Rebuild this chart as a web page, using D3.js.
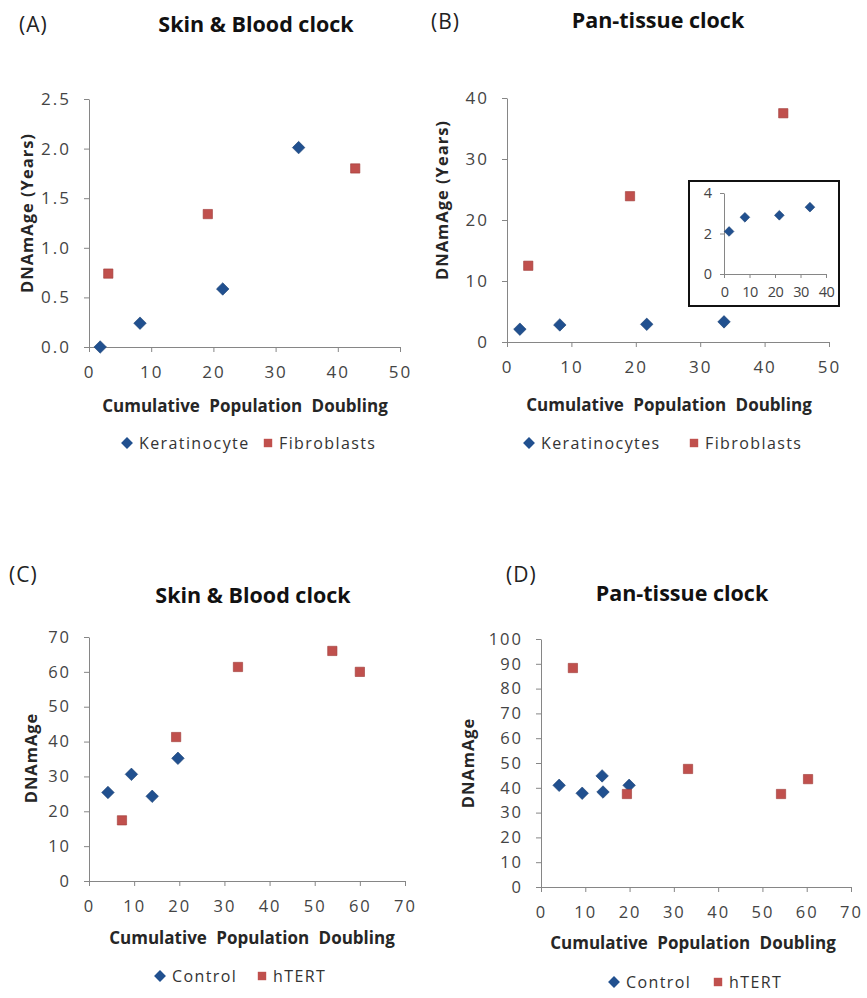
<!DOCTYPE html>
<html>
<head>
<meta charset="utf-8">
<script src="https://cdn.jsdelivr.net/npm/d3@7/dist/d3.min.js"></script>
<style>
  body { margin: 0; background: #fff; }
  svg { display: block; font-family: "Open Sans", sans-serif; }
  .tick text { fill: #444; }
  .domain, .tick line { stroke: #868686; }
</style>
</head>
<body>
<svg width="867" height="998"></svg>
<script>
// panel A - Skin & Blood clock, keratinocytes vs fibroblasts
var aKeratX = [1.8, 8.2, 21.5, 33.7];
var aKeratY = [0.0, 0.24, 0.585, 2.01];
var aFibroX = [3.1, 19.1, 42.8];
var aFibroY = [0.74, 1.34, 1.80];

// panel B - Pan-tissue clock
var bKeratX = [2.0, 8.2, 21.7, 33.7];
var bKeratY = [2.1, 2.8, 2.9, 3.3];
var bFibroX = [3.3, 19.1, 42.9];
var bFibroY = [12.5, 23.9, 37.5];

// panel C - Skin & Blood clock, control vs hTERT
var cControlX = [4.2, 9.4, 14.0, 19.7];
var cControlY = [25.4, 30.6, 24.3, 35.2];
var cHtertX = [7.3, 19.3, 33.0, 53.9, 60.0];
var cHtertY = [17.4, 41.3, 61.4, 66.0, 60.0];

// panel D - Pan-tissue clock
var dControlX = [4.1, 9.3, 13.8, 14.0, 19.9];
var dControlY = [41.0, 37.8, 44.8, 38.3, 41.0];
var dHtertX = [7.2, 19.4, 33.2, 54.2, 60.3];
var dHtertY = [88.3, 37.5, 47.6, 37.5, 43.5];

var ticksA = [0, 0.5, 1.0, 1.5, 2.0, 2.5];
var ticksB = [0, 10, 20, 30, 40];
var ticksC = [0, 10, 20, 30, 40, 50, 60, 70];
var ticksD = [0, 10, 20, 30, 40, 50, 60, 70, 80, 90, 100];
var ticksInset = [0, 2, 4];

var blue = "#21508f";
var red = "#c0504d";

var svg = d3.select("svg");

var zip = function(xs, ys)
{
    return xs.map(function(x, i){ return {x: x, y: ys[i]}; });
}

var styleTicks = function(g, size, spacing)
{
    g.attr("font-family", "'Open Sans', sans-serif");
    g.selectAll(".tick text").style("font-size", size + "px").attr("letter-spacing", spacing);
}

var drawMarkers = function(g, points, xScale, yScale, shape, size)
{
    var sym = d3.symbol().type(shape == "diamond" ? d3.symbolDiamond2 : d3.symbolSquare2).size(size);
    g.selectAll(null)
        .data(points)
        .enter()
        .append("path")
        .attr("d", sym)
        .attr("transform", function(p){ return "translate(" + xScale(p.x) + "," + yScale(p.y) + ")"; })
        .attr("fill", shape == "diamond" ? blue : red)
        .attr("stroke", shape == "diamond" ? "#1a3f72" : "#9e3a37")
        .attr("stroke-width", 0.6);
}

var drawPanel = function(p)
{
    var xScale = d3.scaleLinear().domain(p.xDomain).range([p.left, p.right]);
    var yScale = d3.scaleLinear().domain(p.yDomain).range([p.bottom, p.top]);

    svg.append("g")
        .attr("transform", "translate(0," + p.bottom + ")")
        .call(d3.axisBottom(xScale).tickValues(p.xTicks).tickSize(5).tickSizeOuter(5).tickPadding(14)
            .tickFormat(d3.format("d")))
        .call(styleTicks, p.tickFont, 2);

    svg.append("g")
        .attr("transform", "translate(" + p.left + ",0)")
        .call(d3.axisLeft(yScale).tickValues(p.yTicks).tickSize(5).tickSizeOuter(0).tickPadding(13)
            .tickFormat(p.yFormat || d3.format("d")))
        .call(styleTicks, p.tickFont, 2);

    var g = svg.append("g");
    drawMarkers(g, p.s1, xScale, yScale, "diamond", 100);
    drawMarkers(g, p.s2, xScale, yScale, "square", 110);

    // labels
    svg.append("text").attr("x", p.tagX).attr("y", p.tagY)
        .attr("font-size", 21).attr("letter-spacing", 1).attr("fill", "#222").text(p.tag);
    svg.append("text").attr("x", p.titleX).attr("y", p.titleY)
        .attr("text-anchor", "middle").attr("font-size", 21.5).attr("font-weight", "bold")
        .attr("fill", "#111").text(p.title);
    svg.append("text").attr("x", p.xTitleX).attr("y", p.xTitleY)
        .attr("text-anchor", "middle").attr("font-size", 17).attr("font-weight", "bold")
        .attr("fill", "#262626").attr("word-spacing", 5).text("Cumulative Population Doubling");
    svg.append("text")
        .attr("transform", "translate(" + p.yTitleX + "," + p.yTitleY + ") rotate(-90)")
        .attr("text-anchor", "middle").attr("font-size", 16.5).attr("font-weight", "bold")
        .attr("fill", "#262626").attr("letter-spacing", 1).text(p.yTitle);

    // legend
    var lg = svg.append("g");
    lg.append("path").attr("d", d3.symbol().type(d3.symbolDiamond2).size(90))
        .attr("transform", "translate(" + p.leg1 + "," + p.legY + ")").attr("fill", blue);
    lg.append("text").attr("x", p.leg1 + 12).attr("y", p.legY + 6)
        .attr("font-size", 16).attr("fill", "#333").attr("letter-spacing", 1.4).text(p.name1);
    lg.append("path").attr("d", d3.symbol().type(d3.symbolSquare2).size(90))
        .attr("transform", "translate(" + p.leg2 + "," + p.legY + ")").attr("fill", red);
    lg.append("text").attr("x", p.leg2 + 11).attr("y", p.legY + 6)
        .attr("font-size", 16).attr("fill", "#333").attr("letter-spacing", 1.4).text(p.name2);
}

drawPanel({
    xDomain: [0, 50], yDomain: [0, 2.5], left: 89, right: 400, top: 99, bottom: 347,
    xTicks: [0, 10, 20, 30, 40, 50], yTicks: ticksA, yFormat: d3.format(".1f"), tickFont: 17,
    s1: zip(aKeratX, aKeratY), s2: zip(aFibroX, aFibroY),
    tag: "(A)", tagX: 19, tagY: 32, title: "Skin & Blood clock", titleX: 256, titleY: 32,
    xTitleX: 245, xTitleY: 412, yTitle: "DNAmAge (Years)", yTitleX: 33, yTitleY: 213,
    leg1: 127, leg2: 268, legY: 443, name1: "Keratinocyte", name2: "Fibroblasts"
});

drawPanel({
    xDomain: [0, 50], yDomain: [0, 40], left: 507, right: 829, top: 98, bottom: 342,
    xTicks: [0, 10, 20, 30, 40, 50], yTicks: ticksB, tickFont: 17,
    s1: zip(bKeratX, bKeratY), s2: zip(bFibroX, bFibroY),
    tag: "(B)", tagX: 431, tagY: 29, title: "Pan-tissue clock", titleX: 658, titleY: 28,
    xTitleX: 669, xTitleY: 411, yTitle: "DNAmAge (Years)", yTitleX: 448, yTitleY: 200,
    leg1: 529, leg2: 694, legY: 443, name1: "Keratinocytes", name2: "Fibroblasts"
});

drawPanel({
    xDomain: [0, 70], yDomain: [0, 70], left: 89, right: 405, top: 637, bottom: 881,
    xTicks: ticksC, yTicks: ticksC, tickFont: 16.5,
    s1: zip(cControlX, cControlY), s2: zip(cHtertX, cHtertY),
    tag: "(C)", tagX: 9, tagY: 582, title: "Skin & Blood clock", titleX: 253, titleY: 603,
    xTitleX: 252, xTitleY: 944, yTitle: "DNAmAge", yTitleX: 37, yTitleY: 758,
    leg1: 160, leg2: 262, legY: 976, name1: "Control", name2: "hTERT"
});

drawPanel({
    xDomain: [0, 70], yDomain: [0, 100], left: 541, right: 851, top: 639, bottom: 887,
    xTicks: ticksC, yTicks: ticksD, tickFont: 16.5,
    s1: zip(dControlX, dControlY), s2: zip(dHtertX, dHtertY),
    tag: "(D)", tagX: 506, tagY: 582, title: "Pan-tissue clock", titleX: 682, titleY: 601,
    xTitleX: 693, xTitleY: 949, yTitle: "DNAmAge", yTitleX: 474, yTitleY: 763,
    leg1: 614, leg2: 718, legY: 982, name1: "Control", name2: "hTERT"
});

// inset in panel B: keratinocytes only, zoomed
var inset = svg.append("g");
inset.append("rect").attr("x", 689).attr("y", 181).attr("width", 150).attr("height", 125)
    .attr("fill", "#fff").attr("stroke", "#111").attr("stroke-width", 2);
var ix = d3.scaleLinear().domain([0, 40]).range([724, 826]);
var iy = d3.scaleLinear().domain([0, 4]).range([274, 193]);
inset.append("g").attr("transform", "translate(0,274)")
    .call(d3.axisBottom(ix).tickValues([0, 10, 20, 30, 40]).tickSize(4).tickSizeOuter(4).tickPadding(9)
        .tickFormat(d3.format("d")))
    .call(styleTicks, 14.5, -0.6);
inset.append("g").attr("transform", "translate(724,0)")
    .call(d3.axisLeft(iy).tickValues(ticksInset).tickSize(4).tickSizeOuter(0).tickPadding(8)
        .tickFormat(d3.format("d")))
    .call(styleTicks, 14.5, 0);
drawMarkers(inset, zip(bKeratX, bKeratY), ix, iy, "diamond", 60);
</script>
</body>
</html>
